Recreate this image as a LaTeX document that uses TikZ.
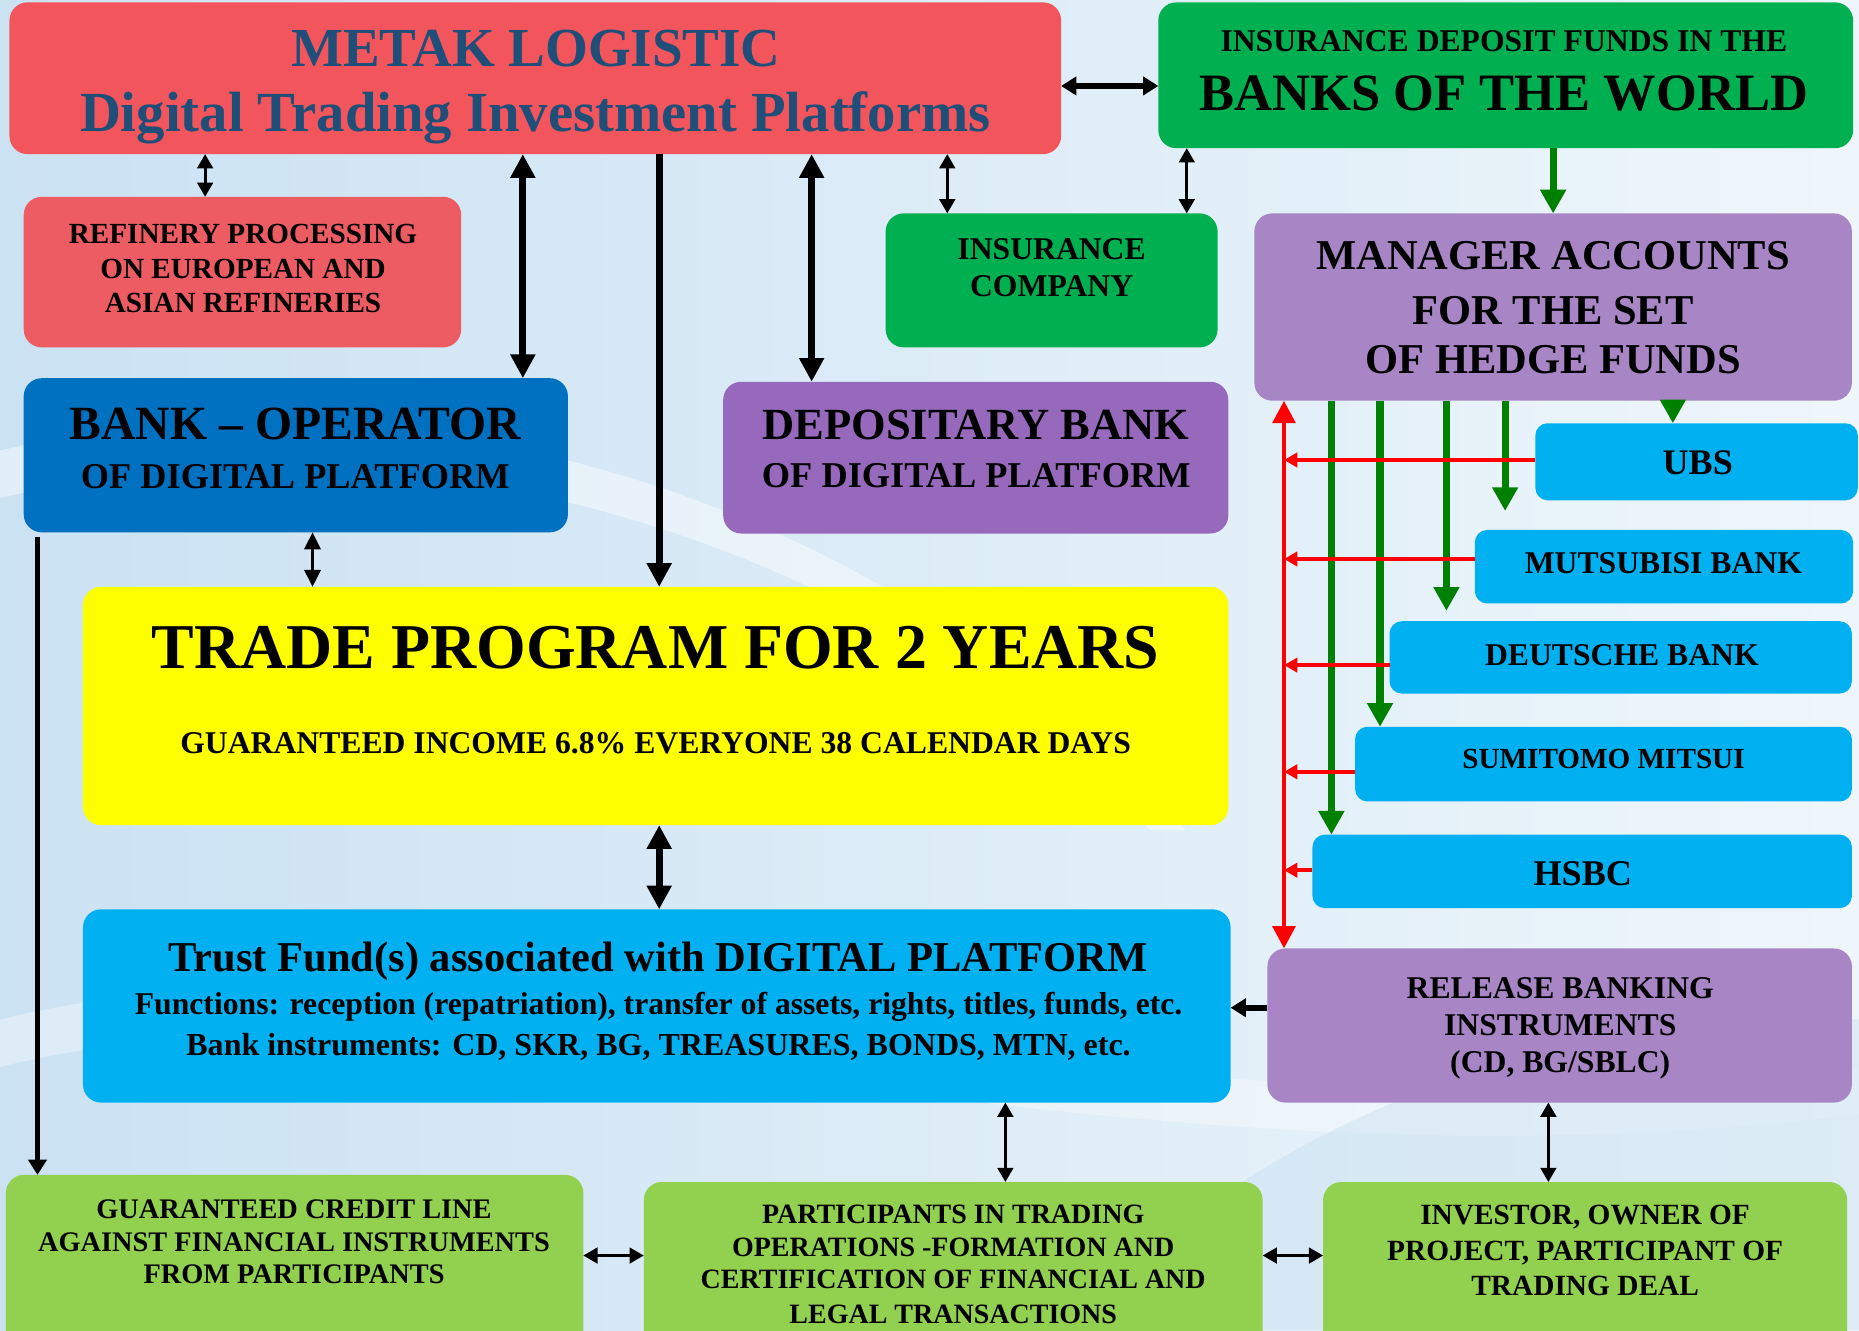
\documentclass[tikz,border=0pt]{standalone}
\usepackage{fontspec}
\setmainfont{Liberation Serif}
\usetikzlibrary{arrows.meta}
\definecolor{cRed}{RGB}{242,86,92}
\definecolor{cRedB}{RGB}{236,92,98}
\definecolor{cGreen}{RGB}{0,176,80}
\definecolor{cPurple}{RGB}{168,134,198}
\definecolor{cPurpleB}{RGB}{150,105,188}
\definecolor{cBlue}{RGB}{0,112,192}
\definecolor{cCyan}{RGB}{0,176,240}
\definecolor{cYellow}{RGB}{255,255,0}
\definecolor{cLime}{RGB}{146,208,80}
\definecolor{cTitle}{RGB}{31,78,121}
\definecolor{cArrowG}{RGB}{0,128,0}
\definecolor{cArrowR}{RGB}{255,0,0}
\definecolor{cBgA}{RGB}{203,226,243}
\definecolor{cBgB}{RGB}{238,246,251}
\newcommand{\myfs}[1]{\fontsize{#1}{#1}\selectfont\bfseries}
\newcommand{\mybox}[7][bx]{\node[#1, fill=#3, minimum width={(#6-#4)*0.025cm}, minimum height={(#7-#5)*0.025cm}] (#2) at ({(#4+#6)/2},{(#5+#7)/2}) {};}
\begin{document}
\begin{tikzpicture}[x=0.025cm, y=-0.025cm,
  bx/.style={rectangle, rounded corners=0.38cm, inner sep=0pt, outer sep=0pt, draw=none},
  bxs/.style={bx, rounded corners=0.26cm},
  tx/.style={anchor=base, inner sep=0pt, outer sep=0pt, text=black},
  aBig/.style={draw=black, line width=0.15cm, {Triangle[length=0.5cm,width=0.5cm]}-{Triangle[length=0.5cm,width=0.5cm]}},
  aBigEnd/.style={draw=black, line width=0.15cm, -{Triangle[length=0.5cm,width=0.5cm]}},
  aMed/.style={draw=black, line width=0.13cm, {Triangle[length=0.32cm,width=0.38cm]}-{Triangle[length=0.32cm,width=0.38cm]}},
  aMedEnd/.style={draw=black, line width=0.12cm, -{Triangle[length=0.32cm,width=0.38cm]}},
  aThin/.style={draw=black, line width=0.06cm, {Triangle[length=0.3cm,width=0.33cm]}-{Triangle[length=0.3cm,width=0.33cm]}},
  aThinB/.style={draw=black, line width=0.07cm, {Triangle[length=0.36cm,width=0.34cm]}-{Triangle[length=0.36cm,width=0.34cm]}},
  aGreen/.style={draw=cArrowG, line width=0.15cm, -{Triangle[length=0.5cm,width=0.52cm]}},
  aRed/.style={draw=cArrowR, line width=0.1cm, {Triangle[length=0.47cm,width=0.47cm]}-{Triangle[length=0.47cm,width=0.47cm]}},
  aRedH/.style={draw=cArrowR, line width=0.09cm, -{Triangle[length=0.28cm,width=0.3cm]}}
]
\useasboundingbox (0,0) rectangle (1568,1122);
\clip (0,0) rectangle (1568,1122);
% background
\shade[left color=cBgA, right color=cBgB] (0,0) rectangle (1568,1122);
\fill[white, opacity=0.45] (0,380) .. controls (350,300) and (750,420) .. (1000,700) -- (970,700) .. controls (730,450) and (350,340) .. (0,420) -- cycle;
\fill[white, opacity=0.35] (0,860) .. controls (400,760) and (900,980) .. (1568,900) -- (1568,940) .. controls (900,1020) and (400,800) .. (0,900) -- cycle;
\fill[cBgA, opacity=0.5] (900,1122) .. controls (1100,900) and (1400,850) .. (1568,860) -- (1568,1122) -- cycle;

% boxes
\mybox{metak}{cRed}{8}{2}{895}{130}
\mybox{insdep}{cGreen}{977}{2}{1563}{125}
\mybox{refin}{cRedB}{20}{166}{389}{293}
\mybox{inscomp}{cGreen}{747}{180}{1027}{293}
\mybox{manager}{cPurple}{1058}{180}{1562}{338}
\mybox{bankop}{cBlue}{20}{319}{479}{449}
\mybox{depos}{cPurpleB}{610}{322}{1036}{450}
\mybox{trade}{cYellow}{70}{495}{1036}{696}
\mybox{trust}{cCyan}{70}{767}{1038}{930}
\mybox{release}{cPurple}{1069}{800}{1562}{930}
\mybox[bxs]{ubs}{cCyan}{1295}{357}{1567}{422}
\mybox[bxs]{mutsu}{cCyan}{1244}{447}{1563}{509}
\mybox[bxs]{deut}{cCyan}{1172}{524}{1562}{585}
\mybox[bxs]{sumi}{cCyan}{1143}{613}{1562}{676}
\mybox[bxs]{hsbc}{cCyan}{1107}{704}{1562}{766}
\mybox{guar}{cLime}{5}{991}{492}{1150}
\mybox{partic}{cLime}{543}{997}{1065}{1150}
\mybox{invest}{cLime}{1116}{997}{1558}{1150}

% texts
\node[tx, font=\myfs{33}, text=cTitle] (tMetakA) at (452,56) {METAK LOGISTIC};
\node[tx, font=\myfs{34}, text=cTitle] (tMetakB) at (451.5,111) {Digital Trading Investment Platforms};
\node[tx, font=\myfs{19}] (tInsdepA) at (1268.5,43.6) {INSURANCE DEPOSIT FUNDS IN THE};
\node[tx, font=\myfs{31.5}] (tInsdepB) at (1268.5,93) {BANKS OF THE WORLD};
\node[tx, font=\myfs{17.5}] (tRefA) at (205,205) {REFINERY PROCESSING};
\node[tx, font=\myfs{17.5}] (tRefB) at (205,234.6) {ON EUROPEAN AND};
\node[tx, font=\myfs{17.5}] (tRefC) at (205,264) {ASIAN REFINERIES};
\node[tx, font=\myfs{19}] (tInsA) at (887,219.3) {INSURANCE};
\node[tx, font=\myfs{19}] (tInsB) at (887,250) {COMPANY};
\node[tx, font=\myfs{25.5}] (tManA) at (1310,227.7) {MANAGER ACCOUNTS};
\node[tx, font=\myfs{25.5}] (tManB) at (1310,274) {FOR THE SET};
\node[tx, font=\myfs{25.5}] (tManC) at (1310,315) {OF HEDGE FUNDS};
\node[tx, font=\myfs{28.6}] (tOpA) at (249,371) {BANK – OPERATOR};
\node[tx, font=\myfs{21.8}] (tOpB) at (249,412) {OF DIGITAL PLATFORM};
\node[tx, font=\myfs{26.7}] (tDepA) at (823,371) {DEPOSITARY BANK};
\node[tx, font=\myfs{21.8}] (tDepB) at (823.5,411) {OF DIGITAL PLATFORM};
\node[tx, font=\myfs{38.3}] (tTradeA) at (553,563.7) {TRADE PROGRAM FOR 2 YEARS};
\node[tx, font=\myfs{19}] (tTradeB) at (553,635.4) {GUARANTEED INCOME 6.8\% EVERYONE 38 CALENDAR DAYS};
\node[tx, font=\myfs{25.5}] (tTrustA) at (555,819.5) {Trust Fund(s) associated with DIGITAL PLATFORM};
\node[tx, font=\myfs{19}] (tTrustB) at (555.5,856) {Functions: reception (repatriation), transfer of assets, rights, titles, funds, etc.};
\node[tx, font=\myfs{19.2}] (tTrustC) at (555.5,890) {Bank instruments: CD, SKR, BG, TREASURES, BONDS, MTN, etc.};
\node[tx, font=\myfs{19}] (tRelA) at (1316,842) {RELEASE BANKING};
\node[tx, font=\myfs{19}] (tRelB) at (1316,873) {INSTRUMENTS};
\node[tx, font=\myfs{19}] (tRelC) at (1316,905) {(CD, BG/SBLC)};
\node[tx, font=\myfs{21.6}] (tUbs) at (1432,400) {UBS};
\node[tx, font=\myfs{19}] (tMutsu) at (1403,484) {MUTSUBISI BANK};
\node[tx, font=\myfs{19}] (tDeut) at (1368,561) {DEUTSCHE BANK};
\node[tx, font=\myfs{17.5}] (tSumi) at (1352.5,648) {SUMITOMO MITSUI};
\node[tx, font=\myfs{21.7}] (tHsbc) at (1335,746.5) {HSBC};
\node[tx, font=\myfs{17}] (tGuarA) at (248,1027.5) {GUARANTEED CREDIT LINE};
\node[tx, font=\myfs{17}] (tGuarB) at (248,1055.7) {AGAINST FINANCIAL INSTRUMENTS};
\node[tx, font=\myfs{17}] (tGuarC) at (248,1082.3) {FROM PARTICIPANTS};
\node[tx, font=\myfs{16.8}] (tPartA) at (804,1031.7) {PARTICIPANTS IN TRADING};
\node[tx, font=\myfs{16.8}] (tPartB) at (804,1060) {OPERATIONS -FORMATION AND};
\node[tx, font=\myfs{16.8}] (tPartC) at (804,1086.5) {CERTIFICATION OF FINANCIAL AND};
\node[tx, font=\myfs{16.8}] (tPartD) at (804,1116) {LEGAL TRANSACTIONS};
\node[tx, font=\myfs{17.6}] (tInvA) at (1337,1033) {INVESTOR, OWNER OF};
\node[tx, font=\myfs{17.6}] (tInvB) at (1337,1062.8) {PROJECT, PARTICIPANT OF};
\node[tx, font=\myfs{17.6}] (tInvC) at (1337,1092.3) {TRADING DEAL};

% black connectors
\draw[aMed] (metak.east |- 0,72.5) -- (insdep.west |- 0,72.5);
\draw[aThin] (metak.south -| 173,0) -- (refin.north -| 173,0);
\draw[aBig] (metak.south -| 441,0) -- (bankop.north -| 441,0);
\draw[aBigEnd] (metak.south -| 556,0) -- (trade.north -| 556,0);
\draw[aBig] (metak.south -| 684.6,0) -- (depos.north -| 684.6,0);
\draw[aThin] (metak.south -| 799,0) -- (inscomp.north -| 799,0);
\draw[aThin] (insdep.south -| 1001,0) -- (inscomp.north -| 1001,0);
\draw[aThinB] (bankop.south -| 263.6,0) -- (trade.north -| 263.6,0);
\draw[aMedEnd, shorten <=0.1cm] (bankop.south -| 31.6,0) -- (guar.north -| 31.6,0);
\draw[aBig] (trade.south -| 556,0) -- (trust.north -| 556,0);
\draw[aMedEnd] (release.west |- 0,850) -- (trust.east |- 0,850);
\draw[aThin] (trust.south -| 848,0) -- (partic.north -| 848,0);
\draw[aThin] (release.south -| 1306,0) -- (invest.north -| 1306,0);
\draw[aThin] (guar.east |- 0,1059) -- (partic.west |- 0,1059);
\draw[aThin] (partic.east |- 0,1059) -- (invest.west |- 0,1059);

% green connectors
\draw[aGreen] (insdep.south -| 1310,0) -- (manager.north -| 1310,0);
\draw[aGreen] (manager.south -| 1123,0) -- (hsbc.north -| 1123,0);
\draw[aGreen] (manager.south -| 1164,0) -- (sumi.north -| 1164,0);
\draw[aGreen, shorten >=0.22cm] (manager.south -| 1220,0) -- (deut.north -| 1220,0);
\draw[aGreen, shorten >=0.4cm] (manager.south -| 1269.5,0) -- (mutsu.north -| 1269.5,0);
\draw[aGreen] (manager.south -| 1411,0) -- (ubs.north -| 1411,0);

% red connectors
\coordinate (redline) at (1083,0);
\draw[aRed] (manager.south -| redline) -- (release.north -| redline);
\draw[aRedH] (ubs.west |- 0,388) -- (redline |- 0,388);
\draw[aRedH] (mutsu.west |- 0,471.5) -- (redline |- 0,471.5);
\draw[aRedH] (deut.west |- 0,561) -- (redline |- 0,561);
\draw[aRedH] (sumi.west |- 0,651) -- (redline |- 0,651);
\draw[aRedH] (hsbc.west |- 0,734) -- (redline |- 0,734);
\end{tikzpicture}
\end{document}
